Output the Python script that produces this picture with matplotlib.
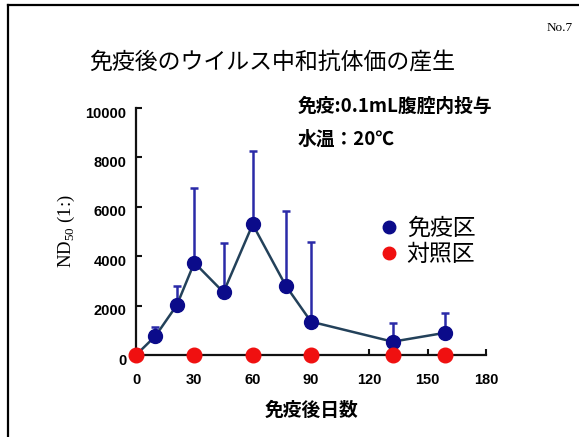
import matplotlib.pyplot as plt
import matplotlib.transforms as mtransforms
from matplotlib.lines import Line2D
import numpy as np

plt.rcParams['font.family'] = ['Noto Sans CJK JP', 'DejaVu Sans']

# days after immunisation
days_imm = [0, 10, 21, 30, 45, 60, 77, 90, 132, 159]
titer_imm = [0, 770, 2020, 3740, 2540, 5290, 2810, 1350, 540, 900]
titer_imm_upper = [0, 1130, 2810, 6750, 4520, 8270, 5840, 4590, 1310, 1710]

days_ctrl = [0, 30, 60, 90, 132, 159]
titer_ctrl = [0, 0, 0, 0, 0, 0]

x_ticks = [0, 30, 60, 90, 120, 150, 180]
y_ticks = [0, 2000, 4000, 6000, 8000, 10000]

fig = plt.figure(figsize=(5.79, 4.37), dpi=100)
ax = fig.add_axes([0.2349, 0.1876, 0.6045, 0.5652])

navy = '#0b0b8a'
err_up = np.array(titer_imm_upper) - np.array(titer_imm)
ax.errorbar(days_imm, titer_imm, yerr=[np.zeros(len(err_up)), err_up],
            fmt='none', ecolor='#2a2aa8', elinewidth=1.8, capsize=3,
            capthick=1.8, zorder=2)
ax.plot(days_imm, titer_imm, color='#23415a', lw=1.8, marker='o', ms=10,
        mfc=navy, mec=navy, zorder=3)
ax.plot(days_ctrl, titer_ctrl, ls='none', marker='o', ms=10.5,
        mfc='#f01010', mec='#f01010', zorder=4, clip_on=False)

ax.set_xlim(0, 180)
ax.set_ylim(0, 10000)
ax.set_xticks(x_ticks)
ax.set_yticks(y_ticks)
for s in ['top', 'right']:
    ax.spines[s].set_visible(False)
for s in ['left', 'bottom']:
    ax.spines[s].set_linewidth(1.6)
    ax.spines[s].set_color('#111111')

tick_font = dict(family=['Liberation Sans', 'DejaVu Sans'],
                 weight='bold', size=10.5)
ax.tick_params(axis='both', direction='in', length=4, width=1.5, color='#111111')
ax.tick_params(axis='x', pad=13)
ax.tick_params(axis='y', pad=7)
ax.set_xticklabels([str(v) for v in x_ticks], fontdict=tick_font)
ax.set_yticklabels([str(v) for v in y_ticks], fontdict=tick_font)
shift = mtransforms.ScaledTranslation(0, -4 / 100, fig.dpi_scale_trans)
for lab in ax.get_yticklabels():
    lab.set_transform(lab.get_transform() + shift)

ax.set_xlabel('免疫後日数', fontsize=13.5, fontweight='bold', labelpad=10)
ax.set_ylabel(r'ND$_{\mathregular{50}}$ (1:)', family='Liberation Serif',
              fontsize=13.5, labelpad=6)

# notes on dosing and temperature
ax.text(0.463, 1.005, '免疫:0.1mL腹腔内投与', transform=ax.transAxes,
        fontsize=13.5, fontweight='bold', va='center')
ax.text(0.463, 0.875, '水温：20℃', transform=ax.transAxes,
        fontsize=13.5, fontweight='bold', va='center')

handles = [Line2D([], [], ls='none', marker='o', ms=9, mfc=navy, mec=navy),
           Line2D([], [], ls='none', marker='o', ms=9, mfc='#f01010', mec='#f01010')]
ax.legend(handles, ['免疫区', '対照区'], loc='center left',
          bbox_to_anchor=(0.626, 0.46), frameon=False, fontsize=16.5,
          handletextpad=0.15, labelspacing=0.1, handlelength=1.2)

fig.text(0.47, 0.858, '免疫後のウイルス中和抗体価の産生', ha='center',
         va='center', fontsize=16.5)
fig.text(0.99, 0.935, 'No.7', ha='right', va='center',
         family='Liberation Serif', fontsize=9.5)

# page frame
fig.add_artist(Line2D([8 / 579, 8 / 579], [0, 1 - 5 / 437],
                      transform=fig.transFigure, color='black', lw=1.6))
fig.add_artist(Line2D([8 / 579, 1], [1 - 5 / 437, 1 - 5 / 437],
                      transform=fig.transFigure, color='black', lw=1.6))

fig.savefig('out.png', dpi=100)
